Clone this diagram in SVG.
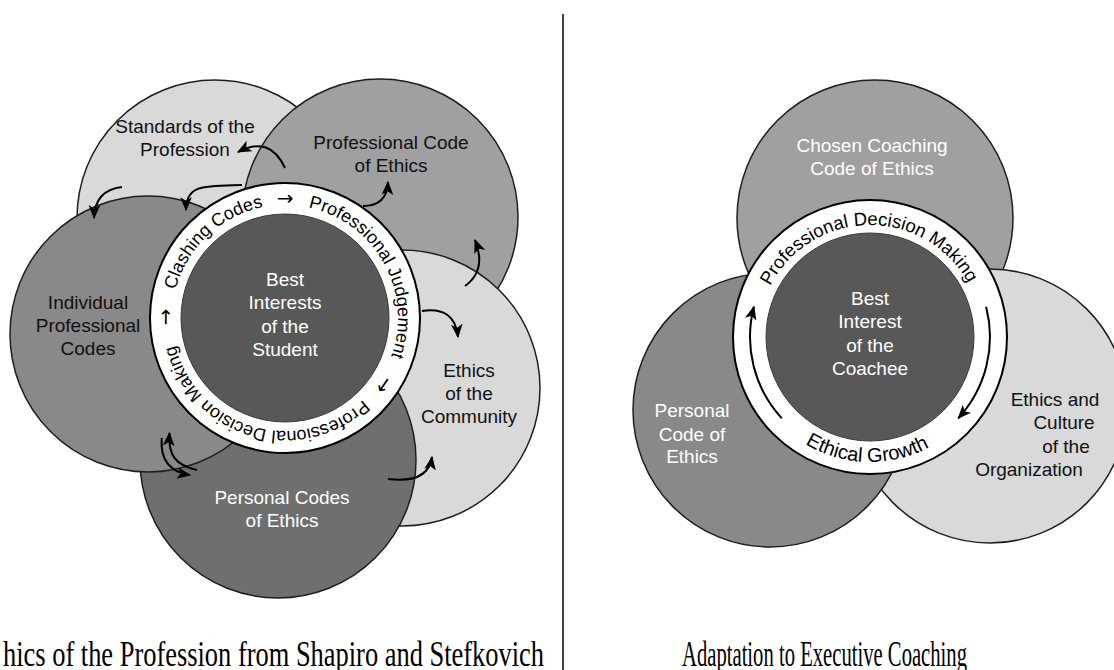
<svg xmlns="http://www.w3.org/2000/svg" width="1114" height="670" viewBox="0 0 1114 670">
<defs>
<style>
.c{stroke:#1e1e1e;stroke-width:1.5}
.l1{fill:#d9d9d9}.l2{fill:#a0a0a0}.l3{fill:#898989}.l4{fill:#6f6f6f}.l5{fill:#585858}
.t{font-family:"Liberation Sans",Arial,sans-serif;font-size:19px;text-anchor:middle}
.rt{font-family:"Liberation Sans",Arial,sans-serif;font-size:18px;fill:#000;text-anchor:middle}
.ra{font-family:"DejaVu Sans",sans-serif;font-size:20px;fill:#000;text-anchor:middle}
.w{fill:#fff}.k{fill:#111}
.arr{fill:none;stroke:#000;stroke-width:2;marker-end:url(#ah)}
.cap{font-family:"Liberation Serif","Times New Roman",serif;font-size:35px;fill:#000}
</style>
<marker id="ah" markerUnits="userSpaceOnUse" markerWidth="14" markerHeight="12" viewBox="0 0 12 10" refX="11" refY="5" orient="auto">
<path d="M0,0 L12,5 L0,10 L3,5 z" fill="#000"/>
</marker>
<path id="ringL" d="M172.43,327.85 A113,113 0 1 1 397.57,308.15 A113,113 0 1 1 172.43,327.85"/>
<path id="ringRtop" d="M870,449 A112,112 0 1 1 870,225 A112,112 0 1 1 870,449"/>
<path id="ringRbot" d="M870,212 A125,125 0 1 0 870,462 A125,125 0 1 0 870,212"/>
</defs>
<rect width="1114" height="670" fill="#fff"/>

<!-- LEFT DIAGRAM -->
<g id="standards">
<circle class="c l1" cx="215" cy="218" r="138"/>
<text class="t k" x="185" y="133">Standards of the</text>
<text class="t k" x="185" y="156">Profession</text>
</g>
<g id="prof-code">
<circle class="c l2" cx="380" cy="217" r="138"/>
<text class="t k" x="391" y="149">Professional Code</text>
<text class="t k" x="391" y="172">of Ethics</text>
</g>
<g id="community">
<circle class="c l1" cx="402" cy="388" r="138"/>
<text class="t k" x="469" y="377">Ethics</text>
<text class="t k" x="469" y="400">of the</text>
<text class="t k" x="469" y="423">Community</text>
</g>
<g id="personal-codes">
<circle class="c l4" cx="278" cy="460" r="138"/>
<text class="t w" x="282" y="504">Personal Codes</text>
<text class="t w" x="282" y="527">of Ethics</text>
</g>
<g id="individual">
<circle class="c l3" cx="148" cy="334" r="138"/>
<text class="t k" x="88" y="309">Individual</text>
<text class="t k" x="88" y="332">Professional</text>
<text class="t k" x="88" y="355">Codes</text>
</g>
<g id="ring-left">
<circle cx="285" cy="318" r="135" fill="#fff" stroke="#000" stroke-width="2"/>
<circle class="l5" cx="285" cy="318" r="104" stroke="#3a3a3a" stroke-width="1"/>
<text class="rt"><textPath href="#ringL" startOffset="101.6">Clashing Codes</textPath></text>
<text class="ra"><textPath href="#ringL" startOffset="187.4">→</textPath></text>
<text class="rt"><textPath href="#ringL" startOffset="307.3">Professional Judgement</textPath></text>
<text class="ra"><textPath href="#ringL" startOffset="431.9">→</textPath></text>
<text class="rt"><textPath href="#ringL" startOffset="573.9">Professional Decision Making</textPath></text>
<text class="ra"><textPath href="#ringL" startOffset="11">→</textPath></text>
</g>
<g id="best-student">
<text class="t w" x="285" y="286">Best</text>
<text class="t w" x="285" y="309">Interests</text>
<text class="t w" x="285" y="333">of the</text>
<text class="t w" x="285" y="356">Student</text>
</g>

<g id="connectors-left">
<path class="arr" d="M285,168 Q270,135 238,152"/>
<path class="arr" d="M242,185 C205,186 186,184 186,210"/>
<path class="arr" d="M122,187 Q95,190 94,218"/>
<path class="arr" d="M363,206 Q387,206 388,182"/>
<path class="arr" d="M465,286 Q487,270 475,240"/>
<path class="arr" d="M422,311 Q455,306 458,337"/>
<path class="arr" d="M388,479 Q428,484 432,457"/>
<path class="arr" d="M197,470 C175,465 168,455 169.5,433"/>
<path class="arr" d="M161.7,438 C160,460 170,472 190,475"/>
</g>

<!-- DIVIDER -->
<line x1="563" y1="14" x2="563" y2="670" stroke="#000" stroke-width="1.5"/>

<!-- RIGHT DIAGRAM -->
<g id="chosen-code">
<circle class="c l2" cx="875" cy="218" r="138"/>
<text class="t w" x="872" y="152">Chosen Coaching</text>
<text class="t w" x="872" y="175">Code of Ethics</text>
</g>
<g id="org-ethics">
<circle class="c l1" cx="990" cy="406" r="137"/>
<text class="t k" x="1055" y="406">Ethics and</text>
<text class="t k" x="1064" y="429">Culture</text>
<text class="t k" x="1066" y="453">of the</text>
<text class="t k" x="1029" y="476">Organization</text>
</g>
<g id="personal-code">
<circle class="c l3" cx="770" cy="410" r="137"/>
<text class="t w" x="692" y="417">Personal</text>
<text class="t w" x="692" y="441">Code of</text>
<text class="t w" x="692" y="463">Ethics</text>
</g>
<g id="ring-right">
<circle cx="870" cy="337" r="137" fill="#fff" stroke="#000" stroke-width="2"/>
<circle class="l5" cx="870" cy="337" r="104" stroke="#3a3a3a" stroke-width="1"/>
<text class="rt" style="font-size:18.5px"><textPath href="#ringRtop" startOffset="349.9">Professional Decision Making</textPath></text>
<text class="rt" style="font-size:20px"><textPath href="#ringRbot" startOffset="389.4">Ethical Growth</textPath></text>
</g>
<g id="best-coachee">
<text class="t w" x="870" y="305">Best</text>
<text class="t w" x="870" y="328">Interest</text>
<text class="t w" x="870" y="352">of the</text>
<text class="t w" x="870" y="375">Coachee</text>
</g>
<g id="connectors-right">
<path class="arr" d="M781.7,418.2 A120,120 0 0 1 753.9,306.7"/>
<path class="arr" d="M986.1,306.7 A120,120 0 0 1 958.3,418.2"/>
</g>

<!-- CAPTIONS -->
<text class="cap" x="3" y="666" textLength="541" lengthAdjust="spacingAndGlyphs">hics of the Profession from Shapiro and Stefkovich</text>
<text class="cap" x="682" y="666" textLength="285" lengthAdjust="spacingAndGlyphs">Adaptation to Executive Coaching</text>
</svg>
